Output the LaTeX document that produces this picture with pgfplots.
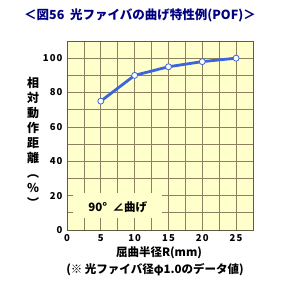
\documentclass[border=0pt]{standalone}
\usepackage{pgfplots}
\pgfplotsset{compat=1.18}
\usepackage{fontspec}
\setmainfont{Noto Sans CJK JP}
\newfontfamily\tickfont{Noto Sans CJK JP}[LetterSpace=12]
\definecolor{bgyel}{RGB}{255,255,204}
\definecolor{gridc}{RGB}{140,128,96}
\definecolor{linec}{RGB}{60,100,220}
\definecolor{navy}{RGB}{0,0,128}
\begin{document}
\begin{tikzpicture}[x=1pt,y=1pt]
\useasboundingbox (-67,-57) rectangle (227,230);
\begin{axis}[
  at={(0pt,0pt)}, anchor=south west,
  scale only axis, width=186pt, height=189pt,
  xmin=0, xmax=27.5, ymin=0, ymax=110,
  xtick={0,5,...,25}, ytick={0,20,...,100},
  minor xtick={2.5,7.5,...,27.5}, minor ytick={10,30,...,110},
  grid=both,
  major grid style={gridc, line width=0.8pt},
  minor grid style={gridc, line width=0.8pt},
  axis background/.style={fill=bgyel},
  axis line style={gridc!70!black, line width=0.8pt},
  tick style={draw=none},
  /pgf/number format/assume math mode=true,
  ticklabel style={font=\tickfont\bfseries\fontsize{9.5}{10}\selectfont},
  xticklabel style={yshift=-1pt},
  yticklabel style={xshift=-1pt},
  clip=false,
]
\addplot[color=linec, line width=2.8pt, mark=*, mark size=3pt,
  mark options={fill=white, draw=linec, line width=0.8pt}]
  coordinates {(5,75) (10,90) (15,95) (20,98) (25,100)};
\node[fill=bgyel, inner sep=0pt, minimum width=89pt, minimum height=25pt, anchor=south west]
  at (axis cs:0.9,7) {};
\node[font=\bfseries\fontsize{11.5}{12}\selectfont] at (axis cs:7.5,13.3) {90°\ \ ∠曲げ};
\end{axis}
\node[font=\bfseries\fontsize{12.5}{13}\selectfont, text=navy] at (73,215) {＜図56\ \ 光ファイバの曲げ特性例(POF)＞};
\node[font=\bfseries\fontsize{12}{15}\selectfont, align=center, inner sep=0pt] at (-34,88)
  {相\\対\\動\\作\\距\\離\\︵\\％\\︶};
\node[font=\bfseries\fontsize{11.5}{12}\selectfont] at (92,-23) {屈曲半径R(mm)};
\node[font=\bfseries\fontsize{11.5}{12}\selectfont] at (88,-40) {(※ 光ファイバ径φ1.0のデータ値)};
\end{tikzpicture}
\end{document}
